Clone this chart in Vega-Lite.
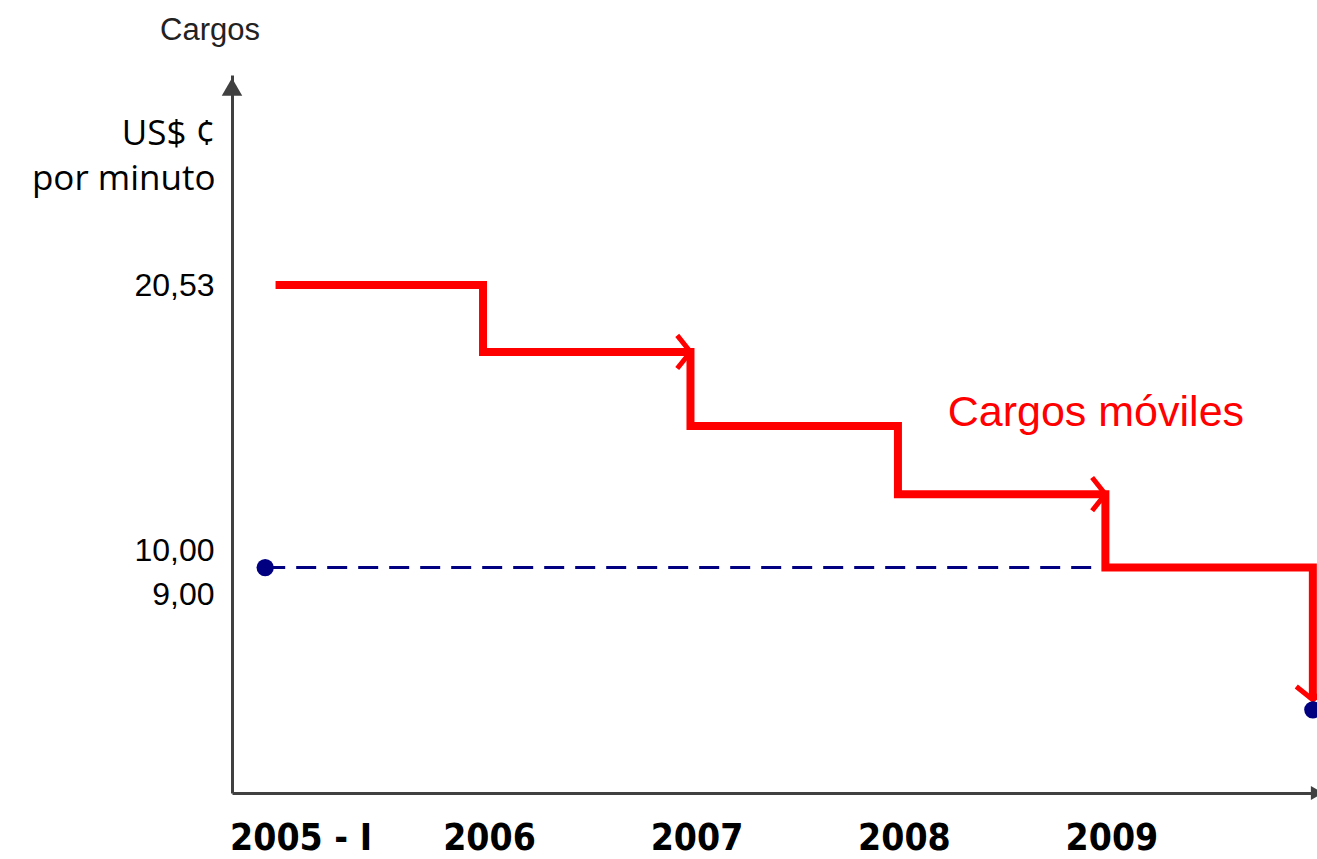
{
  "$schema": "https://vega.github.io/schema/vega-lite/v6.json",
  "autosize": {"type": "none"},
  "width": 1085,
  "height": 718,
  "padding": {"left": 232, "top": 75, "right": 0, "bottom": 66},
  "background": "white",
  "config": {"view": {"stroke": null}},
  "title": {"text": "Cargos", "anchor": "start", "frame": "group", "dx": -72, "offset": 28, "fontSize": 31, "fontWeight": "normal", "font": "Liberation Sans", "color": "#222222"},
  "datasets": {
    "movil": [
      {"year": 2005, "cargo": 20.53},
      {"year": 2006, "cargo": 17.87},
      {"year": 2007, "cargo": 14.93},
      {"year": 2008, "cargo": 12.22},
      {"year": 2009, "cargo": 9.6},
      {"year": 2010, "cargo": 4.8}
    ],
    "fijo": [
      {"year": 2004.95, "cargo": 9.6},
      {"year": 2009, "cargo": 9.6}
    ],
    "puntos": [
      {"year": 2004.95, "cargo": 9.6},
      {"year": 2010, "cargo": 4.4}
    ],
    "flechas": [
      {"year": 2007, "cargo": 17.87, "angulo": 0},
      {"year": 2009, "cargo": 12.22, "angulo": 0},
      {"year": 2010, "cargo": 4.8, "angulo": 90}
    ]
  },
  "layer": [
    {
      "data": {"name": "fijo"},
      "mark": {"type": "line", "color": "#000080", "strokeWidth": 3, "strokeDash": [20, 11]},
      "encoding": {
        "x": {"field": "year", "type": "quantitative",
              "scale": {"domain": [2004.79, 2010.02], "nice": false, "zero": false},
              "axis": {"values": [2005, 2006, 2007, 2008, 2009], "grid": false, "ticks": false,
                       "domainColor": "#404040", "domainWidth": 3, "title": null,
                       "labelExpr": "datum.value == 2005 ? '2005 - I' : format(datum.value, 'd')",
                       "labelFont": "Liberation Sans Narrow, DejaVu Sans Condensed, Roboto Condensed, Liberation Sans",
                       "labelFontWeight": "bold", "labelFontSize": 37, "labelColor": "#000000",
                       "labelPadding": 27, "labelBaseline": "top",
                       "labelOffset": {"condition": {"test": "datum.value == 2005", "value": 25}, "value": 6}}},
        "y": {"field": "cargo", "type": "quantitative",
              "scale": {"domain": [1.1, 9, 10, 28.875], "range": [718, 519, 475, 0], "nice": false, "zero": false},
              "axis": {"values": [9, 10, 20.53], "grid": false, "ticks": false,
                       "domainColor": "#404040", "domainWidth": 3,
                       "labelExpr": "replace(format(datum.value, '.2f'), '.', ',')",
                       "labelFont": "Liberation Sans", "labelFontSize": 32, "labelColor": "#000000",
                       "labelPadding": 18, "labelOverlap": false,
                       "title": ["US$ ¢", "por minuto"], "titleAngle": 0, "titleAlign": "right",
                       "titleBaseline": "alphabetic", "titleX": -17, "titleY": 69, "titleLineHeight": 45,
                       "titleFont": "Open Sans", "titleFontSize": 35, "titleFontWeight": "normal", "titleColor": "#000000"}}
      }
    },
    {
      "data": {"name": "movil"},
      "mark": {"type": "line", "interpolate": "step-after", "color": "#ff0000", "strokeWidth": 8, "strokeJoin": "miter", "strokeCap": "butt"},
      "encoding": {
        "x": {"field": "year", "type": "quantitative"},
        "y": {"field": "cargo", "type": "quantitative"}
      }
    },
    {
      "data": {"name": "flechas"},
      "mark": {"type": "point", "shape": "M-0.8,-1L0,0L-0.8,1", "filled": false, "color": "#ff0000", "strokeWidth": 5, "size": 1100, "opacity": 1},
      "encoding": {
        "x": {"field": "year", "type": "quantitative"},
        "y": {"field": "cargo", "type": "quantitative"},
        "angle": {"field": "angulo", "type": "quantitative", "scale": null}
      }
    },
    {
      "data": {"name": "puntos"},
      "mark": {"type": "point", "shape": "circle", "filled": true, "color": "#000080", "size": 300, "opacity": 1},
      "encoding": {
        "x": {"field": "year", "type": "quantitative"},
        "y": {"field": "cargo", "type": "quantitative"}
      }
    },
    {
      "data": {"values": [{}]},
      "mark": {"type": "point", "shape": "triangle-up", "filled": true, "color": "#404040", "size": 420, "opacity": 1},
      "encoding": {
        "x": {"datum": 2004.79, "type": "quantitative"},
        "y": {"datum": 28.4, "type": "quantitative"}
      }
    },
    {
      "data": {"values": [{}]},
      "mark": {"type": "point", "shape": "triangle-right", "filled": true, "color": "#404040", "size": 200, "opacity": 1},
      "encoding": {
        "x": {"datum": 2010.02, "type": "quantitative"},
        "y": {"datum": 1.1, "type": "quantitative"}
      }
    },
    {
      "data": {"values": [{"etiqueta": "Cargos móviles", "year": 2008.24, "cargo": 15.44}]},
      "mark": {"type": "text", "align": "left", "baseline": "middle", "font": "Liberation Sans", "fontSize": 43, "color": "#ff0000"},
      "encoding": {
        "x": {"field": "year", "type": "quantitative"},
        "y": {"field": "cargo", "type": "quantitative"},
        "text": {"field": "etiqueta"}
      }
    }
  ]
}
